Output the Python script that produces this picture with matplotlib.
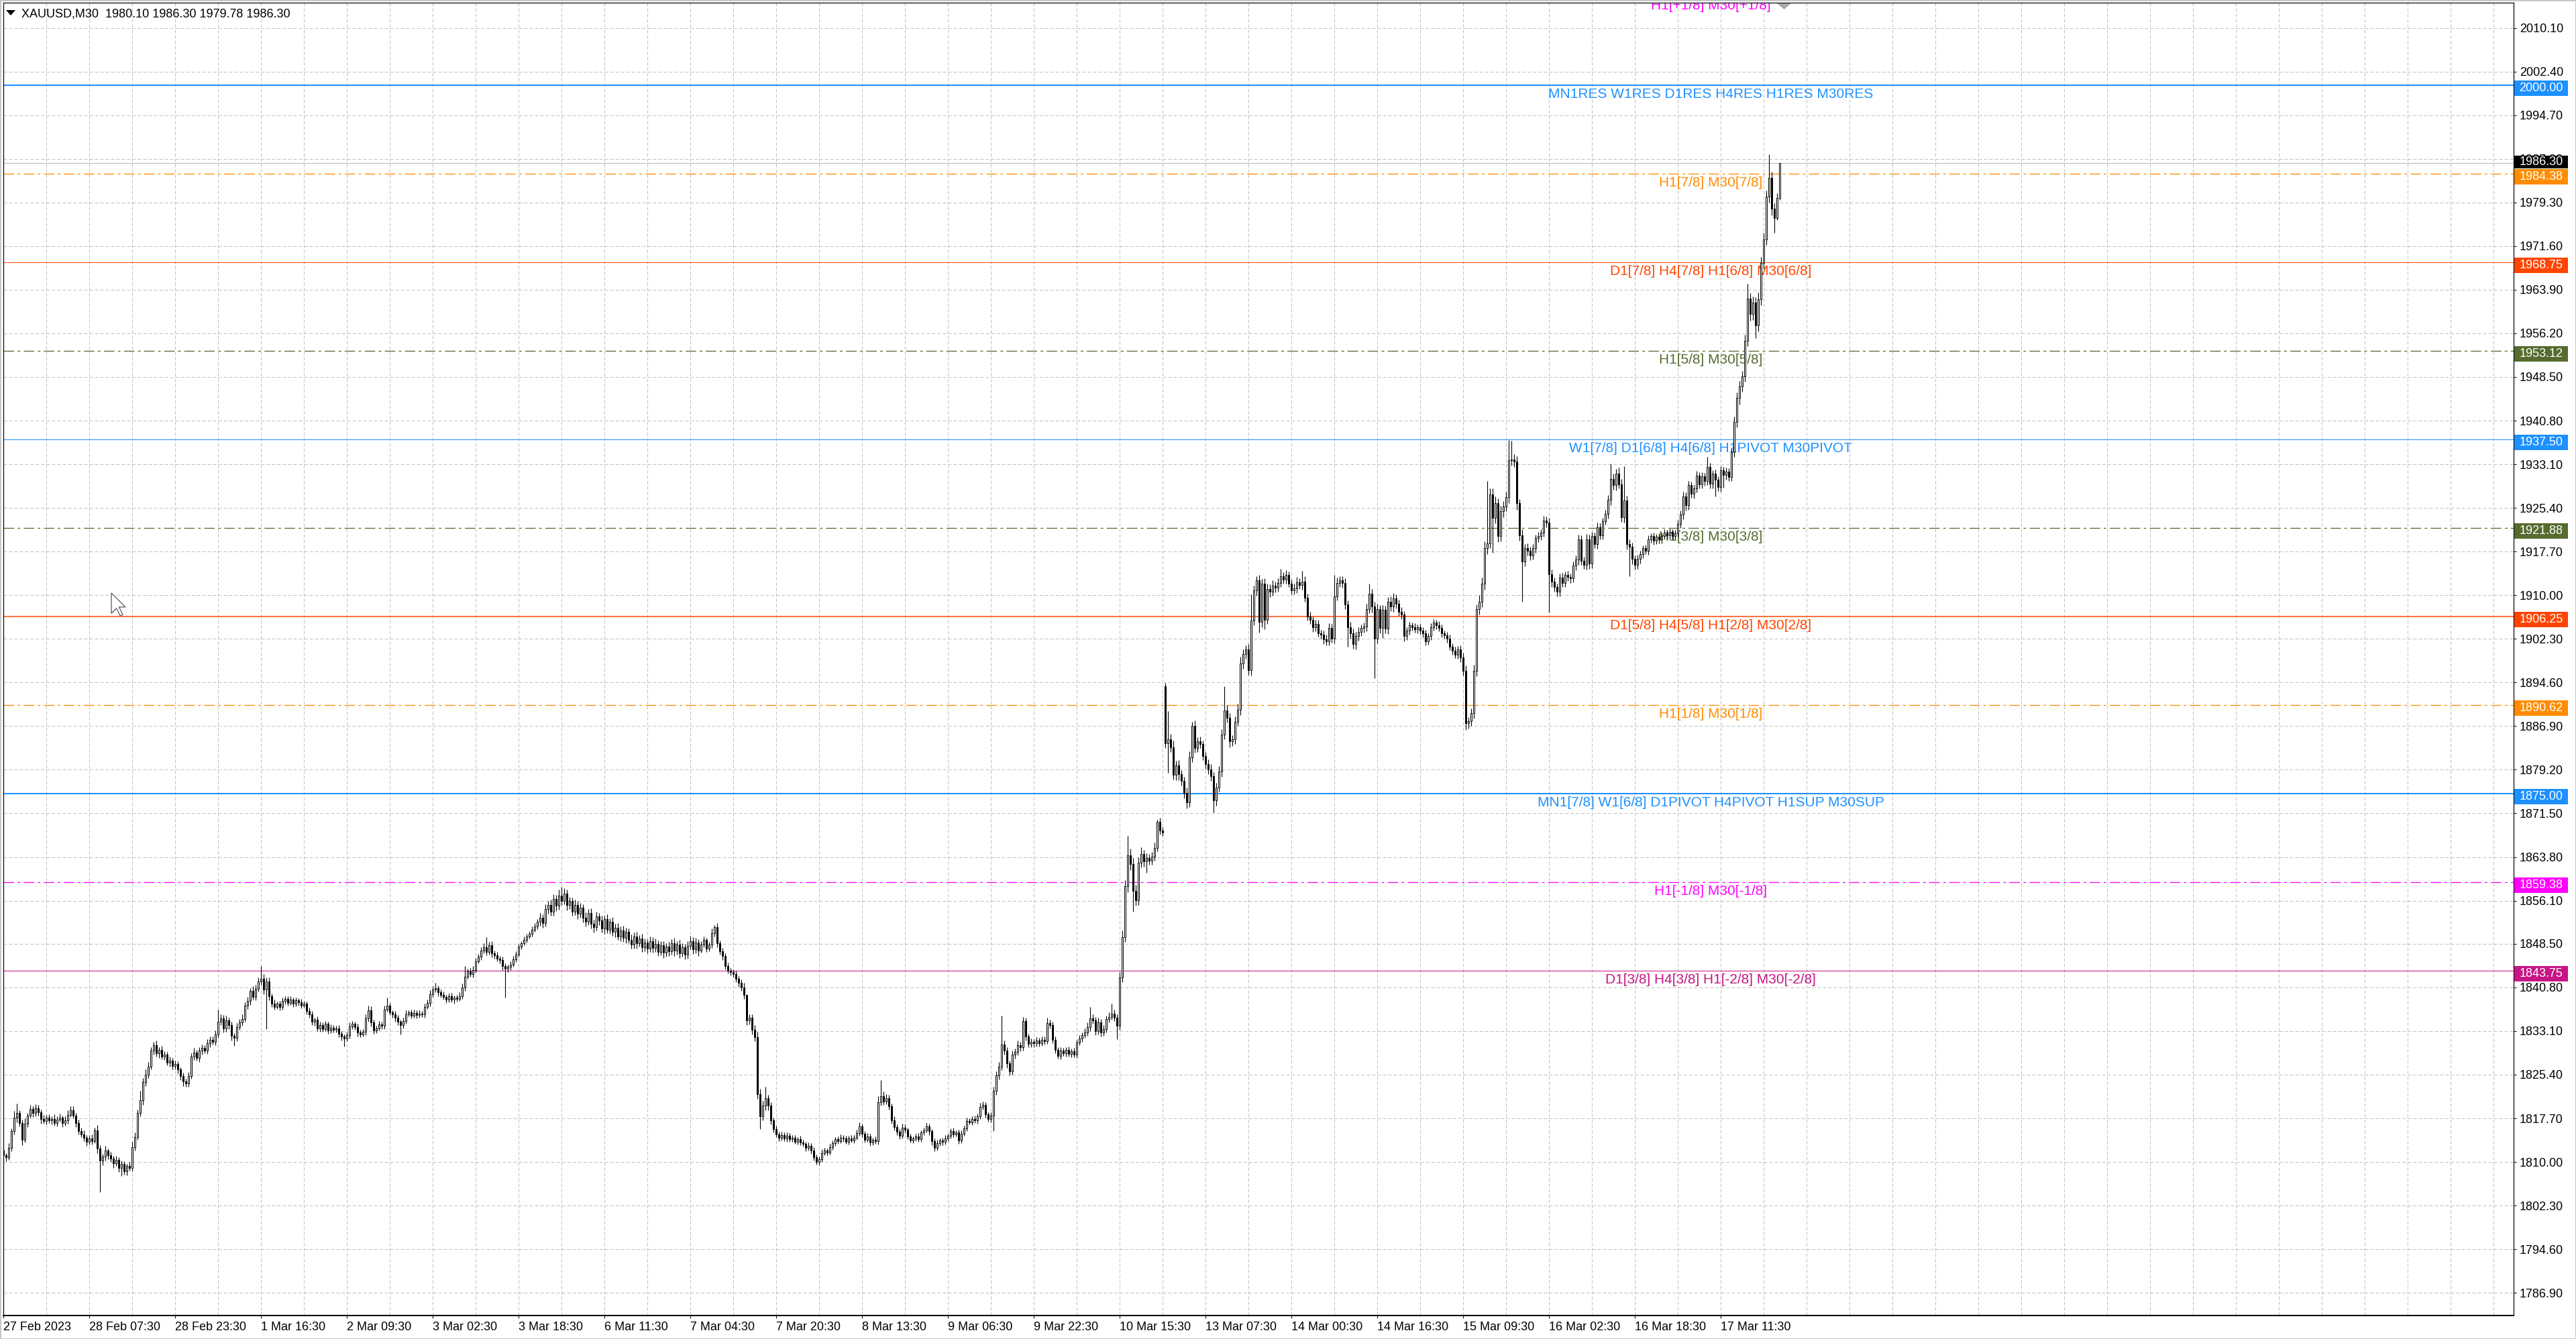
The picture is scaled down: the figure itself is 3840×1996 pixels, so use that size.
import numpy as np
import matplotlib
matplotlib.use("Agg")
import matplotlib.pyplot as plt
from matplotlib.patches import Rectangle, Polygon

plt.rcParams['font.family'] = ['Liberation Sans', 'DejaVu Sans']

# XAUUSD M30 closes, one per bar (bar 0 = 27 Feb 2023)
closes = [
    1811.2, 1810.8, 1812.5, 1815.4, 1817.8, 1818.6, 1816.9, 1813.9, 1816.8, 1818.2,  # 0
    1819.3, 1818.6, 1819.5, 1818.8, 1817.6, 1817.2, 1817.8, 1817.3, 1817.6, 1816.9,  # 10
    1817.5, 1817.8, 1816.9, 1817.4, 1818.3, 1819.1, 1818.2, 1816.9, 1815.5, 1814.9,  # 20
    1814.3, 1813.6, 1814.1, 1813.7, 1815.6, 1812.4, 1810.2, 1810.9, 1812.0, 1811.2,  # 30
    1810.6, 1809.8, 1810.4, 1808.9, 1809.6, 1808.4, 1809.3, 1809.0, 1812.6, 1814.4,  # 40
    1818.6, 1820.9, 1824.1, 1825.4, 1826.8, 1829.7, 1830.6, 1829.2, 1829.8, 1828.6,  # 50
    1828.9, 1827.5, 1827.9, 1826.9, 1827.3, 1826.3, 1825.1, 1824.2, 1823.9, 1825.2,  # 60
    1828.6, 1829.3, 1828.4, 1829.6, 1830.1, 1829.7, 1830.9, 1831.6, 1831.2, 1832.5,  # 70
    1834.8, 1835.3, 1833.6, 1835.0, 1834.2, 1832.3, 1831.9, 1833.8, 1834.6, 1835.2,  # 80
    1837.6, 1838.4, 1840.2, 1839.1, 1840.6, 1841.8, 1842.3, 1840.4, 1841.9, 1839.2,  # 90
    1838.0, 1837.4, 1837.9, 1837.3, 1838.4, 1838.8, 1838.1, 1838.6, 1837.9, 1838.5,  # 100
    1838.2, 1837.6, 1837.9, 1836.6, 1836.1, 1834.7, 1835.1, 1833.6, 1834.2, 1833.5,  # 110
    1834.4, 1833.2, 1833.7, 1833.3, 1833.6, 1832.6, 1832.1, 1831.8, 1832.4, 1833.9,  # 120
    1834.4, 1833.8, 1832.8, 1832.5, 1833.0, 1835.3, 1836.7, 1834.6, 1833.2, 1833.6,  # 130
    1834.3, 1834.0, 1836.9, 1837.6, 1836.4, 1836.0, 1835.4, 1834.7, 1834.2, 1834.9,  # 140
    1836.1, 1836.4, 1835.8, 1836.3, 1835.9, 1836.2, 1836.0, 1837.4, 1838.1, 1839.6,  # 150
    1840.4, 1840.7, 1839.9, 1839.5, 1839.1, 1838.7, 1839.2, 1838.6, 1839.0, 1838.8,  # 160
    1839.3, 1840.8, 1842.7, 1843.6, 1843.2, 1843.9, 1845.4, 1846.2, 1847.3, 1847.9,  # 170
    1847.1, 1848.2, 1846.8, 1846.5, 1845.9, 1845.6, 1844.6, 1844.1, 1844.4, 1844.8,  # 180
    1845.8, 1846.6, 1848.0, 1848.6, 1849.2, 1849.8, 1850.3, 1851.0, 1851.6, 1852.4,  # 190
    1853.1, 1852.2, 1854.6, 1855.3, 1854.1, 1856.4, 1855.2, 1857.0, 1856.1, 1857.4,  # 200
    1855.3, 1856.0, 1854.2, 1855.4, 1853.8, 1854.9, 1853.1, 1852.4, 1853.9, 1852.0,  # 210
    1851.4, 1853.3, 1852.6, 1851.2, 1852.8, 1851.0, 1852.4, 1850.6, 1851.3, 1849.8,  # 220
    1850.9, 1849.5, 1850.6, 1849.2, 1848.4, 1849.8, 1848.6, 1849.4, 1847.9, 1848.7,  # 230
    1847.6, 1849.0, 1847.8, 1848.5, 1847.1, 1848.2, 1846.9, 1848.0, 1847.2, 1848.6,  # 240
    1847.3, 1848.4, 1846.8, 1847.9, 1846.6, 1848.1, 1849.0, 1847.5, 1848.7, 1847.3,  # 250
    1848.4, 1849.2, 1847.6, 1848.3, 1850.4, 1851.4, 1848.6, 1847.2, 1846.3, 1844.6,  # 260
    1843.8, 1843.5, 1843.1, 1842.3, 1841.6, 1840.8, 1839.5, 1835.0, 1835.4, 1833.3,  # 270
    1832.0, 1822.0, 1818.1, 1820.0, 1821.2, 1819.9, 1817.3, 1815.8, 1814.9, 1814.3,  # 280
    1814.8, 1814.1, 1814.6, 1814.0, 1814.3, 1813.6, 1814.0, 1813.4, 1813.2, 1812.5,  # 290
    1812.9, 1812.0, 1810.8, 1810.0, 1810.5, 1811.6, 1812.0, 1811.7, 1812.6, 1813.3,  # 300
    1814.0, 1813.7, 1814.3, 1814.1, 1813.6, 1814.2, 1813.8, 1814.3, 1815.1, 1816.3,  # 310
    1815.0, 1813.9, 1814.5, 1813.4, 1813.9, 1813.7, 1820.6, 1821.6, 1820.7, 1821.3,  # 320
    1819.8, 1817.4, 1816.2, 1815.3, 1814.6, 1816.1, 1815.7, 1814.5, 1813.8, 1814.1,  # 330
    1814.5, 1814.0, 1815.2, 1815.6, 1816.3, 1815.4, 1813.7, 1812.5, 1813.3, 1813.8,  # 340
    1813.5, 1814.2, 1814.6, 1815.4, 1814.9, 1815.2, 1813.8, 1815.0, 1815.9, 1817.2,  # 350
    1817.0, 1817.6, 1817.3, 1818.0, 1819.7, 1820.1, 1818.4, 1817.6, 1818.2, 1822.5,  # 360
    1825.3, 1826.8, 1830.7, 1829.6, 1827.4, 1826.0, 1828.9, 1829.4, 1830.6, 1830.2,  # 370
    1834.9, 1832.1, 1830.8, 1831.2, 1830.9, 1831.4, 1831.0, 1831.6, 1831.3, 1834.5,  # 380
    1834.2, 1831.6, 1829.8, 1828.7, 1829.6, 1829.2, 1829.8, 1829.1, 1829.5, 1829.0,  # 390
    1831.1, 1831.8, 1832.4, 1832.9, 1833.8, 1835.3, 1835.0, 1833.1, 1834.6, 1832.9,  # 400
    1833.4, 1835.2, 1835.6, 1836.2, 1835.5, 1834.0, 1842.5, 1849.7, 1858.6, 1864.1,  # 410
    1862.6, 1857.8, 1856.2, 1862.8, 1864.3, 1863.0, 1863.6, 1863.2, 1863.9, 1865.4,  # 420
    1870.0, 1868.5, 1868.1, 1883.9, 1884.6, 1883.2, 1878.3, 1880.0, 1878.4, 1877.2,  # 430
    1875.1, 1873.4, 1881.4, 1887.0, 1883.0, 1884.2, 1883.8, 1881.6, 1880.2, 1879.3,  # 440
    1878.1, 1873.8, 1876.1, 1878.9, 1885.4, 1889.7, 1888.4, 1884.2, 1884.6, 1887.7,  # 450
    1889.8, 1898.0, 1899.6, 1900.4, 1896.8, 1905.5, 1910.8, 1912.6, 1905.3, 1912.1,  # 460
    1905.7, 1911.1, 1910.6, 1911.7, 1911.3, 1912.2, 1913.4, 1912.8, 1913.6, 1912.1,  # 470
    1910.9, 1911.2, 1912.3, 1911.8, 1912.4, 1909.6, 1906.3, 1905.6, 1904.3, 1904.9,  # 480
    1903.3, 1903.0, 1902.2, 1901.9, 1904.2, 1902.3, 1909.8, 1912.2, 1912.6, 1912.2,  # 490
    1908.4, 1904.4, 1903.3, 1901.4, 1902.8, 1903.5, 1904.2, 1904.5, 1907.6, 1910.3,  # 500
    1908.0, 1902.3, 1907.5, 1904.2, 1907.4, 1904.1, 1908.9, 1908.0, 1909.4, 1908.5,  # 510
    1907.1, 1906.6, 1902.8, 1903.7, 1904.7, 1904.4, 1904.0, 1904.3, 1903.7, 1903.3,  # 520
    1901.9, 1902.8, 1904.3, 1905.2, 1904.7, 1904.2, 1903.3, 1902.9, 1902.3, 1900.9,  # 530
    1900.2, 1899.5, 1900.5, 1899.0, 1896.7, 1887.4, 1887.8, 1889.2, 1896.7, 1907.5,  # 540
    1908.9, 1912.1, 1918.3, 1919.2, 1927.8, 1923.6, 1926.2, 1920.4, 1924.8, 1925.7,  # 550
    1927.3, 1933.8, 1933.9, 1933.6, 1926.2, 1920.6, 1915.9, 1918.3, 1917.9, 1917.0,  # 560
    1918.3, 1920.1, 1920.5, 1921.0, 1923.2, 1922.8, 1913.7, 1912.4, 1911.5, 1910.6,  # 570
    1913.1, 1912.2, 1913.6, 1913.2, 1913.0, 1915.2, 1916.3, 1919.8, 1916.1, 1915.3,  # 580
    1919.9, 1915.6, 1920.4, 1919.0, 1922.0, 1920.6, 1923.1, 1924.3, 1926.8, 1930.5,  # 590
    1929.4, 1931.5, 1929.6, 1923.8, 1926.7, 1919.0, 1918.6, 1916.4, 1915.3, 1916.4,  # 600
    1917.2, 1918.3, 1917.8, 1919.9, 1920.4, 1919.6, 1920.3, 1919.8, 1920.5, 1921.0,  # 610
    1920.6, 1921.1, 1920.5, 1920.9, 1922.6, 1924.2, 1927.4, 1925.9, 1929.4, 1927.9,  # 620
    1928.8, 1931.1, 1929.6, 1931.0, 1930.1, 1932.6, 1929.7, 1931.5, 1930.4, 1929.1,  # 630
    1932.0, 1931.2, 1931.8, 1930.9, 1935.3, 1940.6, 1944.8, 1946.9, 1948.6, 1954.9,  # 640
    1962.3, 1959.6, 1961.6, 1957.6, 1962.2, 1968.6, 1972.8, 1980.4, 1983.6, 1978.2,  # 650
    1976.5, 1980.1, 1986.3,                                                          # 660
]

# opens that differ from the previous close (first bar, Monday gap)
gap_opens = {0: 1812.0, 433: 1893.9, 662: 1980.10}

# wick lengths above / below the body, in tenths of a dollar
wick_up = [
    6, 4, 8, 5, 12, 7, 5, 6, 9, 4, 8, 5, 9, 6, 4, 7, 5, 6, 4, 8,
    5, 7, 4, 6, 8, 5, 7, 4, 6, 5, 7, 4, 6, 8, 5, 9, 6, 5, 8, 4,
    6, 5, 7, 4, 6, 5, 4, 7, 9, 8, 6, 10, 7, 9, 8, 6, 6, 8, 5, 7,
    6, 5, 7, 4, 6, 5, 4, 6, 5, 7, 6, 8, 5, 7, 6, 5, 8, 6, 5, 7,
    9, 7, 6, 8, 5, 6, 4, 7, 6, 8, 6, 7, 5, 8, 6, 7, 9, 8, 6, 7,
    5, 6, 4, 5, 6, 4, 5, 6, 4, 5, 4, 6, 5, 4, 6, 5, 4, 6, 5, 4,
    5, 4, 6, 5, 4, 6, 5, 4, 6, 7, 5, 4, 6, 5, 4, 7, 6, 8, 5, 4,
    6, 5, 7, 6, 5, 4, 6, 5, 4, 5, 6, 4, 5, 6, 4, 5, 4, 6, 5, 7,
    6, 5, 4, 5, 6, 4, 5, 6, 4, 5, 6, 7, 6, 5, 6, 7, 6, 5, 6, 7,
    8, 6, 7, 5, 6, 5, 6, 5, 4, 6, 5, 6, 5, 4, 6, 5, 4, 6, 5, 4,
    8, 6, 9, 7, 10, 8, 7, 11, 8, 9, 7, 8, 6, 9, 7, 8, 6, 9, 7, 8,
    7, 9, 6, 8, 7, 9, 6, 8, 7, 9, 6, 8, 7, 6, 9, 7, 8, 6, 9, 7,
    6, 8, 7, 9, 6, 8, 7, 6, 8, 7, 9, 6, 8, 7, 6, 8, 9, 7, 8, 6,
    5, 6, 4, 5, 8, 6, 7, 5, 6, 5, 6, 4, 5, 6, 5, 6, 8, 9, 7, 6,
    8, 10, 9, 8, 9, 7, 6, 5, 6, 4, 5, 4, 6, 5, 4, 5, 4, 6, 5, 4,
    5, 4, 6, 5, 4, 6, 5, 4, 6, 5, 4, 5, 6, 4, 5, 4, 6, 5, 6, 7,
    5, 4, 6, 5, 4, 6, 10, 9, 8, 7, 6, 5, 6, 4, 5, 6, 5, 4, 5, 4,
    5, 6, 4, 5, 6, 5, 4, 5, 6, 4, 5, 6, 4, 5, 6, 4, 5, 6, 5, 6,
    5, 4, 6, 5, 7, 6, 5, 4, 6, 8, 7, 9, 8, 7, 6, 5, 7, 6, 8, 6,
    7, 6, 5, 6, 5, 6, 5, 6, 5, 8, 6, 5, 6, 5, 6, 5, 4, 6, 5, 6,
    5, 6, 5, 7, 8, 9, 7, 6, 8, 6, 7, 6, 8, 9, 7, 6, 10, 12, 11, 14,
    12, 10, 11, 9, 10, 8, 9, 7, 8, 9, 8, 7, 6, 6, 10, 9, 11, 8, 9, 7,
    8, 9, 10, 8, 9, 7, 8, 6, 7, 8, 9, 7, 8, 9, 10, 12, 9, 8, 7, 9,
    10, 11, 9, 8, 10, 12, 9, 7, 10, 8, 9, 10, 8, 9, 7, 8, 9, 7, 8, 6,
    7, 8, 9, 7, 8, 9, 7, 8, 6, 7, 8, 6, 7, 8, 9, 7, 10, 9, 8, 7,
    8, 7, 9, 8, 7, 8, 6, 7, 9, 10, 8, 9, 10, 8, 9, 7, 8, 9, 10, 8,
    7, 8, 6, 7, 6, 5, 6, 5, 6, 7, 6, 5, 7, 6, 5, 7, 6, 5, 6, 7,
    6, 7, 5, 6, 8, 9, 7, 8, 10, 9, 11, 10, 12, 9, 11, 10, 12, 9, 10, 9,
    10, 11, 12, 10, 9, 8, 10, 7, 8, 6, 7, 6, 7, 6, 8, 7, 9, 8, 7, 6,
    7, 8, 6, 7, 6, 8, 7, 9, 8, 7, 9, 8, 7, 6, 8, 7, 6, 8, 9, 10,
    9, 8, 10, 9, 10, 9, 8, 7, 6, 7, 6, 5, 6, 7, 5, 6, 5, 6, 5, 6,
    5, 6, 5, 6, 7, 8, 9, 7, 8, 6, 7, 8, 6, 7, 6, 8, 7, 6, 7, 6,
    7, 6, 7, 6, 8, 9, 10, 9, 10, 11, 12, 10, 11, 10, 12, 11, 12, 10, 13, 11,
    10, 8, 0,
]
wick_dn = [
    5, 7, 4, 6, 5, 8, 6, 9, 5, 6, 4, 7, 5, 6, 8, 5, 6, 4, 7, 5,
    6, 4, 7, 5, 6, 4, 5, 7, 6, 5, 6, 7, 5, 6, 4, 9, 12, 8, 6, 7,
    6, 8, 5, 7, 9, 6, 8, 5, 7, 6, 5, 6, 8, 7, 6, 5, 7, 6, 8, 5,
    6, 5, 7, 6, 5, 7, 6, 8, 7, 6, 5, 6, 5, 7, 6, 5, 6, 7, 5, 6,
    6, 7, 8, 6, 7, 9, 8, 6, 5, 6, 5, 6, 7, 5, 6, 5, 6, 8, 9, 7,
    6, 5, 4, 5, 4, 6, 5, 4, 5, 4, 6, 5, 4, 5, 6, 5, 7, 5, 6, 5,
    4, 6, 5, 4, 5, 6, 7, 8, 5, 6, 4, 5, 6, 5, 4, 6, 5, 7, 6, 5,
    4, 6, 5, 4, 5, 6, 7, 5, 8, 6, 5, 4, 5, 4, 6, 5, 4, 5, 4, 6,
    5, 4, 6, 5, 4, 6, 5, 4, 6, 5, 4, 5, 6, 4, 5, 6, 5, 4, 6, 5,
    6, 5, 7, 6, 5, 6, 7, 8, 6, 5, 4, 5, 4, 5, 4, 5, 4, 5, 4, 5,
    7, 9, 6, 8, 7, 6, 9, 7, 8, 6, 9, 7, 8, 6, 9, 7, 8, 9, 6, 8,
    9, 6, 8, 7, 9, 6, 8, 7, 9, 6, 8, 7, 9, 6, 8, 7, 9, 6, 8, 7,
    8, 6, 9, 7, 8, 6, 9, 7, 8, 6, 9, 7, 8, 6, 9, 7, 6, 8, 7, 9,
    4, 5, 6, 4, 5, 6, 7, 6, 7, 6, 5, 6, 5, 6, 7, 6, 7, 8, 7, 8,
    7, 9, 10, 8, 9, 8, 7, 6, 5, 6, 5, 4, 5, 4, 5, 4, 5, 4, 5, 6,
    5, 6, 5, 7, 6, 5, 4, 5, 4, 5, 4, 5, 4, 5, 4, 5, 4, 5, 4, 5,
    6, 5, 4, 5, 4, 5, 6, 7, 6, 5, 6, 7, 6, 5, 6, 5, 6, 5, 4, 5,
    4, 5, 4, 5, 4, 6, 7, 6, 5, 4, 5, 4, 5, 4, 5, 4, 6, 5, 4, 5,
    4, 5, 4, 5, 4, 5, 6, 5, 6, 7, 6, 7, 6, 7, 8, 7, 6, 7, 6, 7,
    6, 7, 6, 5, 6, 5, 6, 5, 6, 5, 6, 7, 6, 5, 6, 5, 6, 5, 6, 5,
    6, 5, 6, 5, 6, 7, 6, 7, 6, 7, 6, 5, 6, 5, 6, 8, 7, 8, 9, 10,
    11, 12, 10, 9, 8, 9, 8, 7, 8, 7, 6, 7, 6, 8, 10, 9, 8, 9, 10, 8,
    9, 10, 8, 9, 8, 7, 8, 7, 8, 9, 8, 10, 9, 8, 9, 8, 9, 10, 8, 9,
    8, 9, 10, 8, 9, 10, 8, 9, 10, 9, 10, 8, 9, 7, 8, 7, 8, 7, 8, 7,
    8, 7, 8, 7, 8, 7, 8, 7, 8, 7, 6, 7, 8, 7, 8, 7, 8, 7, 8, 9,
    8, 9, 10, 8, 9, 8, 7, 8, 9, 8, 10, 9, 8, 9, 10, 8, 9, 8, 9, 8,
    7, 8, 9, 7, 6, 7, 6, 7, 6, 7, 8, 6, 7, 6, 7, 6, 7, 6, 7, 6,
    7, 6, 7, 8, 9, 10, 9, 8, 9, 10, 9, 10, 11, 10, 9, 10, 9, 10, 9, 10,
    9, 10, 9, 10, 11, 10, 9, 8, 9, 8, 7, 8, 7, 8, 7, 8, 9, 10, 9, 8,
    8, 7, 8, 7, 8, 7, 8, 9, 8, 7, 8, 9, 8, 7, 8, 7, 8, 7, 8, 9,
    8, 9, 8, 9, 10, 9, 10, 9, 8, 7, 8, 7, 6, 7, 6, 7, 6, 7, 6, 7,
    6, 7, 6, 7, 6, 7, 8, 9, 8, 7, 8, 7, 8, 7, 8, 7, 8, 9, 8, 7,
    8, 7, 8, 7, 8, 9, 10, 11, 10, 9, 10, 11, 10, 12, 11, 10, 11, 10, 11, 12,
    13, 3, 3,
]

# long wicks (bar -> price)
spike_hi = {5: 1820.3, 12: 1820.2, 25: 1819.8, 51: 1822.5, 56: 1831.2, 80: 1836.9,
            96: 1844.6, 136: 1837.6, 143: 1839.0, 161: 1841.6, 172: 1844.6, 180: 1849.7,
            208: 1858.5, 265: 1851.8, 277: 1837.3, 284: 1823.3, 327: 1824.4, 372: 1835.8,
            380: 1835.6, 389: 1835.5, 405: 1837.4, 413: 1838.0, 419: 1867.5, 424: 1865.5,
            430: 1870.4, 433: 1894.5, 434: 1889.5, 443: 1887.6, 455: 1893.9, 465: 1910.1,
            467: 1913.3, 476: 1914.7, 484: 1914.3, 496: 1913.6, 498: 1913.4, 509: 1912.0,
            518: 1910.4, 553: 1930.2, 561: 1937.4, 562: 1937.2, 599: 1933.2, 604: 1932.7,
            635: 1934.4, 650: 1964.9, 658: 1987.8, 662: 1986.30}
spike_lo = {36: 1804.7, 44: 1807.5, 68: 1823.3, 86: 1830.5, 98: 1833.5, 127: 1830.4,
            148: 1832.5, 187: 1839.0, 282: 1815.8, 303: 1809.5, 369: 1815.5, 415: 1831.7,
            421: 1854.2, 426: 1861.0, 434: 1878.7, 441: 1872.4, 451: 1871.7, 468: 1903.4,
            470: 1904.0, 501: 1900.9, 511: 1895.4, 514: 1902.4, 545: 1886.2, 555: 1917.5,
            566: 1908.9, 576: 1907.0, 606: 1913.4, 638: 1927.4, 641: 1929.0, 653: 1955.4,
            660: 1973.9, 662: 1979.78}

# price axis and time axis labels
ytick_vals = [2010.10, 2002.40, 1994.70, 1987.00, 1979.30, 1971.60, 1963.90, 1956.20,
              1948.50, 1940.80, 1933.10, 1925.40, 1917.70, 1910.00, 1902.30, 1894.60,
              1886.90, 1879.20, 1871.50, 1863.80, 1856.10, 1848.50, 1840.80, 1833.10,
              1825.40, 1817.70, 1810.00, 1802.30, 1794.60, 1786.90]
xtick_labels = ["27 Feb 2023", "28 Feb 07:30", "28 Feb 23:30", "1 Mar 16:30", "2 Mar 09:30",
                "3 Mar 02:30", "3 Mar 18:30", "6 Mar 11:30", "7 Mar 04:30", "7 Mar 20:30",
                "8 Mar 13:30", "9 Mar 06:30", "9 Mar 22:30", "10 Mar 15:30", "13 Mar 07:30",
                "14 Mar 00:30", "14 Mar 16:30", "15 Mar 09:30", "16 Mar 02:30", "16 Mar 18:30",
                "17 Mar 11:30"]

# murrey-math style levels
level_vals = [2015.62, 2000.00, 1984.38, 1968.75, 1953.12, 1937.50, 1921.88, 1906.25,
              1890.62, 1875.00, 1859.38, 1843.75]
level_texts = ["H1[+1/8] M30[+1/8]",
               "MN1RES W1RES D1RES H4RES H1RES M30RES",
               "H1[7/8] M30[7/8]",
               "D1[7/8] H4[7/8] H1[6/8] M30[6/8]",
               "H1[5/8] M30[5/8]",
               "W1[7/8] D1[6/8] H4[6/8] H1PIVOT M30PIVOT",
               "H1[3/8] M30[3/8]",
               "D1[5/8] H4[5/8] H1[2/8] M30[2/8]",
               "H1[1/8] M30[1/8]",
               "MN1[7/8] W1[6/8] D1PIVOT H4PIVOT H1SUP M30SUP",
               "H1[-1/8] M30[-1/8]",
               "D1[3/8] H4[3/8] H1[-2/8] M30[-2/8]"]
level_colors = ["#FF00FF", "#1E90FF", "#FF8C00", "#FF4500", "#556B2F", "#1E90FF",
                "#556B2F", "#FF4500", "#FF8C00", "#1E90FF", "#FF00FF", "#C71585"]
level_solid = [False, True, False, True, False, True, False, True, False, True, False, True]
level_width = [1.3, 2, 1.3, 1, 1.3, 1, 1.3, 1.5, 1.3, 2, 1.3, 1]

last_price = 1986.30
title = "XAUUSD,M30  1980.10 1986.30 1979.78 1986.30"

W, H = 3840, 1996
PX = 0.72  # one pixel in points at dpi 100
TOP, BOT, LEFT, RIGHT = 4, 1961, 4.6, 3746.7
YTOP, YBOT = 2014.55, 1782.90
SCALE = (BOT - TOP) / (YTOP - YBOT)


def fx(px):
    return px / W


def fy(py):
    return 1 - py / H


def py_of(v):
    return TOP + (YTOP - v) * SCALE


fig = plt.figure(figsize=(W / 100, H / 100), dpi=100)
fig.patch.set_facecolor("white")
ax = fig.add_axes([fx(LEFT), fy(BOT), (RIGHT - LEFT) / W, (BOT - TOP) / H])
ax.set_facecolor("white")
ax.set_xlim(-0.1, 935.4)
ax.set_ylim(YBOT, YTOP)

# grid
grid_kw = dict(color="#C0C0C0", lw=PX, ls=(0, (5, 3)), zorder=0.5)
for v in ytick_vals:
    ax.axhline(v, **grid_kw)
for b in range(16, 936, 16):
    ax.axvline(b, **grid_kw)

# candles
c = np.array(closes, dtype=float)
n = len(c)
o = np.empty(n)
o[0] = c[0]
o[1:] = c[:-1]
for k, v in gap_opens.items():
    o[k] = v
up = np.array(wick_up[:n], dtype=float) / 10
dn = np.array(wick_dn[:n], dtype=float) / 10
hi = np.maximum(o, c) + up
lo = np.minimum(o, c) - dn
for k, v in spike_hi.items():
    hi[k] = max(v, max(o[k], c[k]))
for k, v in spike_lo.items():
    lo[k] = min(v, min(o[k], c[k]))

x = np.arange(n)
ax.vlines(x, lo, hi, color="black", lw=0.8, zorder=3)
bull = c >= o
face = np.where(bull, "white", "black")
ax.bar(x, np.maximum(np.abs(c - o), 0.12), bottom=np.minimum(o, c), width=0.62,
       color=face, edgecolor="black", linewidth=PX, zorder=3.1)

# level lines and their captions
for v, txt, col, solid, lw in zip(level_vals, level_texts, level_colors, level_solid, level_width):
    ls = "-" if solid else (0, (12, 4, 3, 4))
    ax.axhline(v, color=col, lw=lw * PX, ls=ls, zorder=1.5)
    ax.text(636.25, v - 2.21, txt, color=col, fontsize=15, ha="center", va="baseline",
            zorder=2, clip_on=True)

# current price line
ax.axhline(last_price, color="#B4B4B4", lw=PX, zorder=1.4)

# axes styling
for s in ax.spines.values():
    s.set_color("black")
    s.set_linewidth(PX * 1.2)
ax.spines["bottom"].set_linewidth(PX * 2)

ax.yaxis.tick_right()
ax.set_yticks(ytick_vals)
ax.set_yticklabels(["%.2f" % v for v in ytick_vals])
ax.tick_params(axis="y", which="both", direction="out", length=4 * PX, width=PX,
               pad=5 * PX, labelsize=13, colors="black", left=False, right=True)
ax.set_xticks(np.arange(0, 32 * len(xtick_labels), 32))
ax.set_xticklabels(xtick_labels)
ax.tick_params(axis="x", direction="out", length=4 * PX, width=PX, pad=5 * PX,
               labelsize=13, colors="black")
for lab in ax.get_xticklabels():
    lab.set_ha("left")

# price tags on the right scale
for v, col in zip(level_vals, level_colors):
    if v > YTOP:
        continue
    yc = py_of(v)
    fig.add_artist(Rectangle((fx(3748), fy(yc + 16.5)), 80 / W, 23.2 / H,
                             transform=fig.transFigure, fc=col, ec="none", zorder=4))
    fig.text(fx(3788), fy(yc + 4.9), "%.2f" % v, color="white", fontsize=13,
             ha="center", va="center", zorder=5)
yc = py_of(last_price)
fig.add_artist(Rectangle((fx(3748), fy(yc + 8.5)), 80 / W, 19.6 / H,
                         transform=fig.transFigure, fc="black", ec="none", zorder=4))
fig.text(fx(3788), fy(yc - 1.3), "%.2f" % last_price, color="white", fontsize=13,
         ha="center", va="center", zorder=5)

# symbol header
fig.add_artist(Polygon([(fx(9), fy(15)), (fx(23), fy(15)), (fx(16), fy(23))],
                       closed=True, transform=fig.transFigure, fc="black", ec="none", zorder=5))
fig.text(fx(32), fy(26), title, fontsize=13, ha="left", va="baseline", zorder=5)

# chart shift marker
fig.add_artist(Polygon([(fx(2649), fy(5)), (fx(2670), fy(5)), (fx(2659.5), fy(14))],
                       closed=True, transform=fig.transFigure, fc="#A8A8A8", ec="none", zorder=5))

# mouse pointer
cx, cy, k = 166, 884, 1.9
arrow = [(0, 0), (0, 16), (4, 12), (7, 18), (9, 17), (6, 11), (11, 11)]
fig.add_artist(Polygon([(fx(cx + k * a), fy(cy + k * b)) for a, b in arrow], closed=True,
                       transform=fig.transFigure, fc="white", ec="#505050", lw=PX * 1.2, zorder=6))

# window frame
fig.add_artist(Rectangle((0, 0), 1, 1, transform=fig.transFigure, fill=False,
                         ec="#C8C8C8", lw=PX * 3, zorder=6))

fig.savefig("out.png", dpi=100, facecolor="white")
